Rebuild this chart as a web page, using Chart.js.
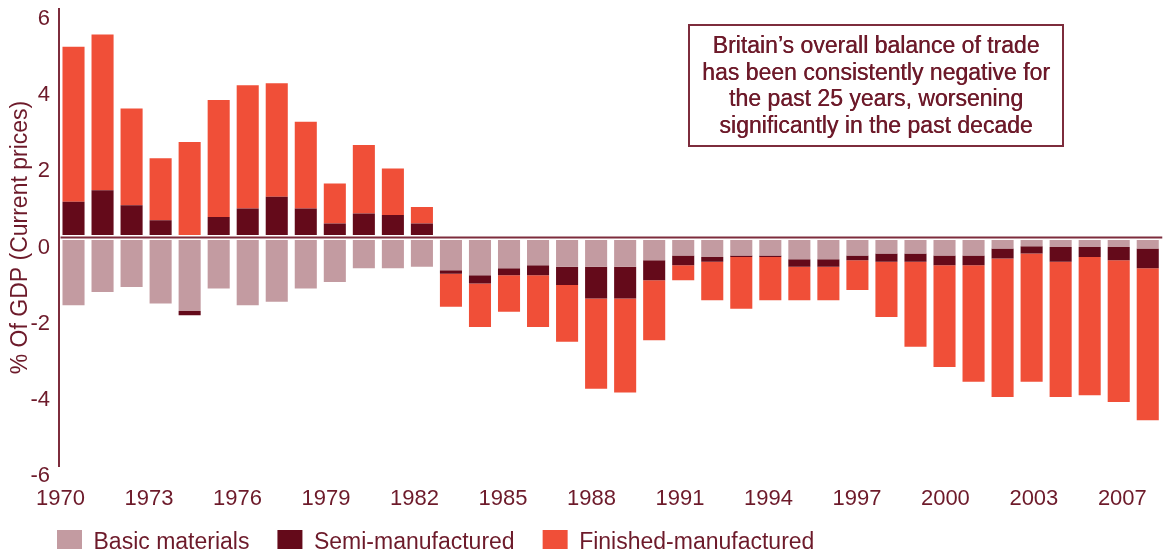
<!DOCTYPE html>
<html>
<head>
<meta charset="utf-8">
<script src="https://cdn.jsdelivr.net/npm/chart.js@4"></script>
<style>
    html, body { margin: 0; padding: 0; background: #fff; }
    #wrap { width: 1167px; height: 560px; }
</style>
</head>
<body>
<div id="wrap"><canvas id="tradeChart"></canvas></div>
<script>
// data, % of GDP
const years = ['1970', '1971', '1972', '1973', '1974', '1975', '1976', '1977', '1978', '1979',
    '1980', '1981', '1982', '1983', '1984', '1985', '1986', '1987', '1988', '1989',
    '1990', '1991', '1992', '1993', '1994', '1995', '1996', '1997', '1998', '1999',
    '2000', '2001', '2002', '2003', '2004', '2005', '2006', '2007'];
const tickLabels = ['1970', '1973', '1976', '1979', '1982', '1985', '1988', '1991', '1994', '1997', '2000', '2003', '2007'];
const basicMaterials = [-1.78, -1.43, -1.30, -1.73, -1.93, -1.34, -1.78, -1.69, -1.34, -1.17,
    -0.81, -0.81, -0.77, -0.86, -0.99, -0.81, -0.73, -0.77, -0.77, -0.77,
    -0.60, -0.47, -0.51, -0.47, -0.47, -0.57, -0.57, -0.47, -0.42, -0.42,
    -0.47, -0.47, -0.29, -0.23, -0.25, -0.25, -0.25, -0.29];
const semiManufactured = [0.94, 1.24, 0.85, 0.45, -0.11, 0.54, 0.76, 1.07, 0.76, 0.37,
    0.63, 0.59, 0.37, -0.09, -0.22, -0.18, -0.26, -0.48, -0.83, -0.83,
    -0.52, -0.26, -0.13, -0.04, -0.04, -0.20, -0.20, -0.13, -0.22, -0.22,
    -0.26, -0.26, -0.26, -0.19, -0.39, -0.26, -0.35, -0.52];
const finishedManufactured = [4.07, 4.09, 2.54, 1.63, 2.51, 3.07, 3.24, 2.98, 2.28, 1.05,
    1.80, 1.22, 0.43, -0.87, -1.14, -0.96, -1.36, -1.49, -2.37, -2.47,
    -1.58, -0.39, -1.01, -1.36, -1.14, -0.88, -0.88, -0.78, -1.45, -2.23,
    -2.67, -3.06, -3.64, -3.37, -3.55, -3.63, -3.72, -3.99];
const noteLines = [
    'Britain\u2019s overall balance of trade',
    'has been consistently negative for',
    'the past 25 years, worsening',
    'significantly in the past decade'
];

const textColor = '#6d1a2a';
const axisColor = '#7d2c3c';
const fontFamily = '"Liberation Sans", Arial, sans-serif';

Chart.defaults.font.family = fontFamily;
Chart.defaults.color = textColor;

// zero line on top of the bars, with a thin white gap either side
const zeroLine = {
    id: 'zeroLine',
    afterDatasetsDraw(chart) {
        const { ctx, chartArea, scales } = chart;
        const y = scales.y.getPixelForValue(0);
        ctx.save();
        ctx.beginPath();
        ctx.moveTo(chartArea.left + 1.5, y);
        ctx.lineTo(chartArea.right, y);
        ctx.strokeStyle = '#ffffff';
        ctx.lineWidth = 5;
        ctx.stroke();
        ctx.strokeStyle = axisColor;
        ctx.lineWidth = 2;
        ctx.stroke();
        ctx.restore();
    }
};

// boxed comment in the top right
const noteBox = {
    id: 'noteBox',
    afterDraw(chart) {
        const { ctx } = chart;
        ctx.save();
        ctx.strokeStyle = axisColor;
        ctx.lineWidth = 2;
        ctx.strokeRect(689, 25, 374, 121);
        ctx.fillStyle = textColor;
        ctx.font = '23px ' + fontFamily;
        ctx.textAlign = 'center';
        ctx.textBaseline = 'alphabetic';
        noteLines.forEach((line, i) => {
            ctx.fillText(line, 876, 53 + i * 26.5);
            ctx.fillText(line, 876.4, 53 + i * 26.5);   // a touch heavier, like the print
        });
        ctx.restore();
    }
};

// legend sits flush with the y axis
const legendPlace = {
    id: 'legendPlace',
    afterLayout(chart) {
        const lg = chart.legend;
        lg.left += 29;
        lg.right += 29;
        const h = lg.height;
        lg.top = 502;
        lg.bottom = 502 + h;
    }
};

const config = {
    type: 'bar',
    data: {
        labels: years,
        datasets: [{
            label: 'Basic materials',
            data: basicMaterials,
            backgroundColor: '#c39ba1',
            xAxisID: 'x',
            yAxisID: 'y'
        }, {
            label: 'Semi-manufactured',
            data: semiManufactured,
            backgroundColor: '#640a1a',
            xAxisID: 'x',
            yAxisID: 'y'
        }, {
            label: 'Finished-manufactured',
            data: finishedManufactured,
            backgroundColor: '#f04f38',
            xAxisID: 'x',
            yAxisID: 'y'
        }]
    },
    options: {
        responsive: true,
        maintainAspectRatio: false,
        animation: false,
        datasets: {
            bar: { categoryPercentage: 1, barPercentage: 0.76, borderWidth: 0 }
        },
        layout: { padding: { top: 9, right: 1, bottom: 0, left: 0 } },
        scales: {
            x: {
                type: 'category',
                stacked: true,
                display: false,
                offset: true
            },
            xl: {
                type: 'linear',
                position: 'bottom',
                offset: false,
                min: -0.0169,
                max: 12.451,
                afterBuildTicks: scale => {
                    scale.ticks = tickLabels.map((t, i) => ({ value: i }));
                },
                afterFit: scale => {
                    scale.height = 47;
                },
                ticks: {
                    autoSkip: false,
                    maxRotation: 0,
                    padding: 20,
                    font: { size: 22 },
                    color: textColor,
                    callback: (value, index) => tickLabels[index]
                },
                grid: { display: false, drawTicks: false, offset: false },
                border: { display: false }
            },
            y: {
                stacked: true,
                min: -6,
                max: 6,
                ticks: {
                    stepSize: 2,
                    labelOffset: 10,
                    padding: 9,
                    font: { size: 22 },
                    color: textColor
                },
                grid: { display: false, drawTicks: false },
                border: { display: true, color: axisColor, width: 2 },
                title: {
                    display: true,
                    text: '% Of GDP (Current prices)',
                    color: textColor,
                    font: { size: 23 },
                    padding: { top: 7, bottom: 0 }
                },
                afterFit: scale => {
                    scale.width = 59;
                    scale.paddingTop = 0;
                    scale.paddingBottom = 0;
                }
            }
        },
        plugins: {
            legend: {
                position: 'bottom',
                align: 'start',
                maxHeight: 47,
                labels: {
                    boxWidth: 25,
                    boxHeight: 25,
                    padding: 28,
                    font: { size: 23 },
                    color: textColor
                }
            },
            tooltip: { enabled: false }
        }
    },
    plugins: [zeroLine, noteBox, legendPlace]
};

const tradeChart = new Chart(document.getElementById('tradeChart'), config);
</script>
</body>
</html>
